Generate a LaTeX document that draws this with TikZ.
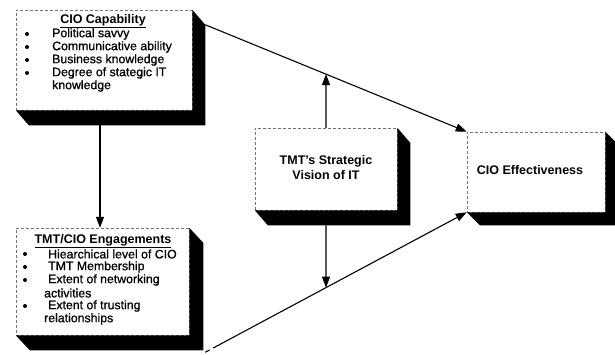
\documentclass[tikz,border=0pt]{standalone}
\usepackage{fontspec}
\setmainfont{Liberation Sans}
\newfontfamily\itemfont[FakeBold=0.8]{Liberation Sans}
\usetikzlibrary{arrows.meta}
\begin{document}
\begin{tikzpicture}[x=1pt,y=-1pt,
  face/.style={draw=black!55, densely dashed, line width=0.5pt, fill=white,
    inner sep=0pt, minimum width=#1},
  depth/.style={fill=black},
  arr/.style={line width=1.1pt, -{Triangle[length=11pt,width=8pt]}},
  head/.style={font=\bfseries\fontsize{12.5}{15}\selectfont, inner sep=0pt},
  txt/.style={anchor=west, font=\itemfont\fontsize{12.3}{14}\selectfont, inner sep=0pt},
  dot/.style={circle, fill=black, inner sep=0pt, minimum size=4pt}
]
\useasboundingbox (0,0) rectangle (615,354);

% extruded black side of a box (right and bottom faces)
\newcommand\extrude[3]{%
  \fill[depth] (#1.north east) -- ([xshift=#2,yshift=-#3]#1.north east)
    -- ([xshift=#2,yshift=-#3]#1.south east) -- ([xshift=#2,yshift=-#3]#1.south west)
    -- (#1.south west) -- (#1.south east) -- cycle;}

% boxes (front faces)
\node[face=176pt, minimum height=100pt] (cap) at (104,60) {};
\node[face=173pt, minimum height=107pt] (eng) at (102.5,281.5) {};
\node[face=142pt, minimum height=82pt] (vis) at (326,169) {};
\node[face=138pt, minimum height=80pt] (eff) at (536,172) {};

\extrude{cap}{13pt}{15pt}
\extrude{eng}{14pt}{15pt}
\extrude{vis}{13pt}{15pt}
\extrude{eff}{13pt}{13pt}

% CIO capability
\node[head] (capT) at (103,21) {\underline{CIO Capability}};
\foreach \y/\t [count=\i] in {34/Political savvy, 47/Communicative ability,
    60/Business knowledge, 73/Degree of stategic IT} {
  \node[dot] (capB\i) at (27,\y) {};
  \node[txt] (capL\i) at (52,\y) {\t};
}
\node[txt] (capL5) at (52,86) {knowledge};

% TMT/CIO engagements
\node[head] (engT) at (103,241) {\underline{TMT/CIO Engagements}};
\foreach \y/\t [count=\i] in {254/Hiearchical level of CIO, 267/TMT Membership,
    280/Extent of networking, 306/Extent of trusting} {
  \node[dot] (engB\i) at (25,\y) {};
  \node[txt] (engL\i) at (48,\y) {\t};
}
\node[txt] (engC1) at (44,293) {activities};
\node[txt] (engC2) at (44,319) {relationships};

% moderator and outcome
\node[head, align=center] (visT) at (326,168) {TMT's Strategic\\Vision of IT};
\node[head] (effT) at (530,170) {CIO Effectiveness};

% connectors
\coordinate (upS) at ([xshift=13pt,yshift=-15pt]cap.north east);
\coordinate (loS) at ([xshift=16pt,yshift=-17pt]eng.south east);

\draw[arr] ([xshift=-4pt,yshift=-15pt]cap.south) -- ([xshift=-2.5pt]eng.north);
\draw[arr] (upS) -- (eff.north west);
\draw[arr, dash pattern=on 5pt off 4pt on 600pt] (loS) -- (eff.south west);
\draw[arr] (vis.north) -- (intersection of upS--eff.north west and vis.north--vis.south);
\draw[arr] ([yshift=-15pt]vis.south) -- (intersection of loS--eff.south west and vis.north--vis.south);
\end{tikzpicture}
\end{document}
